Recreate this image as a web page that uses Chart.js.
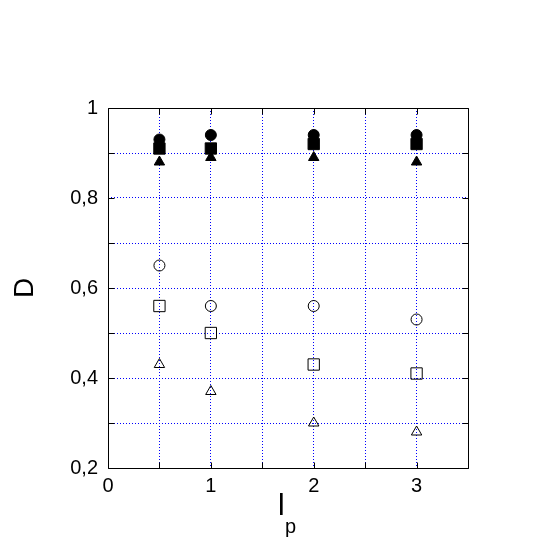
<!DOCTYPE html>
<html>
<head>
<meta charset="utf-8">
<script src="https://cdn.jsdelivr.net/npm/chart.js@4/dist/chart.umd.min.js"></script>
<style>
  html, body { margin: 0; padding: 0; background: #fff; }
  #plot { display: block; }
</style>
</head>
<body>
<canvas id="plot" width="540" height="540"></canvas>
<script>
// data
const xValues = [0.5, 1, 2, 3];
const filledCircle = [0.93, 0.94, 0.94, 0.94];
const filledSquare = [0.91, 0.91, 0.92, 0.92];
const filledTriangle = [0.88, 0.89, 0.89, 0.88];
const openCircle = [0.65, 0.56, 0.56, 0.53];
const openSquare = [0.56, 0.50, 0.43, 0.41];
const openTriangle = [0.43, 0.37, 0.30, 0.28];

const xTickLabels = ['0', '1', '2', '3'];
const yTickLabels = ['0,2', '0,4', '0,6', '0,8', '1'];

const fontFamily = "'Liberation Sans', Arial, Helvetica, sans-serif";

function toPoints(ys) {
    return xValues.map(function(x, i) { return { x: x, y: ys[i] }; });
}

function makeSet(label, ys, style, filled, radius) {
    return {
        label: label,
        data: toPoints(ys),
        pointStyle: style,
        pointRadius: radius,
        pointHoverRadius: radius,
        backgroundColor: filled ? '#000' : 'rgba(0,0,0,0)',
        borderColor: '#000',
        borderWidth: 1,
        showLine: false
    };
}

// frame, inward ticks on all four sides, and axis titles
const framePlugin = {
    id: 'frame',
    afterDraw(chart) {
        const ctx = chart.ctx;
        const a = chart.chartArea;
        const xs = chart.scales.x;
        const ys = chart.scales.y;
        const L = Math.round(a.left) + 0.5, R = Math.round(a.right) + 0.5;
        const T = Math.round(a.top) + 0.5, B = Math.round(a.bottom) + 0.5;
        const tick = 6;
        ctx.save();
        ctx.strokeStyle = '#000';
        ctx.lineWidth = 1;
        ctx.beginPath();
        ctx.rect(L, T, R - L, B - T);
        xs.ticks.forEach(function(t) {
            const px = Math.round(xs.getPixelForValue(t.value)) + 0.5;
            ctx.moveTo(px, B); ctx.lineTo(px, B - tick);
            ctx.moveTo(px, T); ctx.lineTo(px, T + tick);
        });
        ys.ticks.forEach(function(t) {
            const py = Math.round(ys.getPixelForValue(t.value)) + 0.5;
            ctx.moveTo(L, py); ctx.lineTo(L + tick, py);
            ctx.moveTo(R, py); ctx.lineTo(R - tick, py);
        });
        ctx.stroke();

        ctx.fillStyle = '#000';
        // y title
        ctx.save();
        ctx.translate(25, (a.top + a.bottom) / 2);
        ctx.rotate(-Math.PI / 2);
        ctx.font = '28px ' + fontFamily;
        ctx.textAlign = 'center';
        ctx.textBaseline = 'middle';
        ctx.fillText('D', 0, 0);
        ctx.restore();
        // x title: l with subscript p
        ctx.textAlign = 'left';
        ctx.textBaseline = 'alphabetic';
        ctx.font = '30px ' + fontFamily;
        ctx.fillText('l', 278, 515);
        ctx.font = '20px ' + fontFamily;
        ctx.fillText('p', 285, 533);
        ctx.restore();
    }
};

function edgeColor(scale, ctx) {
    const v = ctx.tick ? ctx.tick.value : null;
    if (v === null) return '#0000ff';
    if (Math.abs(v - scale.min) < 1e-9 || Math.abs(v - scale.max) < 1e-9) return 'rgba(0,0,0,0)';
    return '#0000ff';
}

new Chart(document.getElementById('plot'), {
    type: 'scatter',
    data: {
        datasets: [
            makeSet('filled circle', filledCircle, 'circle', true, 5.5),
            makeSet('filled square', filledSquare, 'rect', true, 8),
            makeSet('filled triangle', filledTriangle, 'triangle', true, 6),
            makeSet('open circle', openCircle, 'circle', false, 5.5),
            makeSet('open square', openSquare, 'rect', false, 8),
            makeSet('open triangle', openTriangle, 'triangle', false, 6)
        ]
    },
    options: {
        responsive: false,
        animation: false,
        layout: { padding: { top: 108, right: 72, left: 0, bottom: 0 } },
        plugins: {
            legend: { display: false },
            tooltip: { enabled: false }
        },
        scales: {
            x: {
                type: 'linear',
                min: 0,
                max: 3.5,
                afterFit: function(scale) { scale.height = 72; },
                grid: {
                    color: function(ctx) { return edgeColor({ min: 0, max: 3.5 }, ctx); },
                    lineWidth: 1,
                    drawTicks: false
                },
                border: { display: false, dash: [1, 2] },
                ticks: {
                    stepSize: 0.5,
                    autoSkip: false,
                    maxRotation: 0,
                    padding: 6,
                    color: '#000',
                    font: { family: fontFamily, size: 20 },
                    callback: function(v) {
                        return Number.isInteger(v) ? xTickLabels[v] : '';
                    }
                }
            },
            y: {
                type: 'linear',
                min: 0.2,
                max: 1.0,
                afterFit: function(scale) { scale.width = 108; },
                grid: {
                    color: function(ctx) { return edgeColor({ min: 0.2, max: 1.0 }, ctx); },
                    lineWidth: 1,
                    drawTicks: false
                },
                border: { display: false, dash: [1, 2] },
                ticks: {
                    stepSize: 0.1,
                    autoSkip: false,
                    padding: 10,
                    color: '#000',
                    font: { family: fontFamily, size: 20 },
                    callback: function(v) {
                        const k = Math.round(v * 10);
                        return k % 2 === 0 ? yTickLabels[k / 2 - 1] : '';
                    }
                }
            }
        }
    },
    plugins: [framePlugin]
});
</script>
</body>
</html>
